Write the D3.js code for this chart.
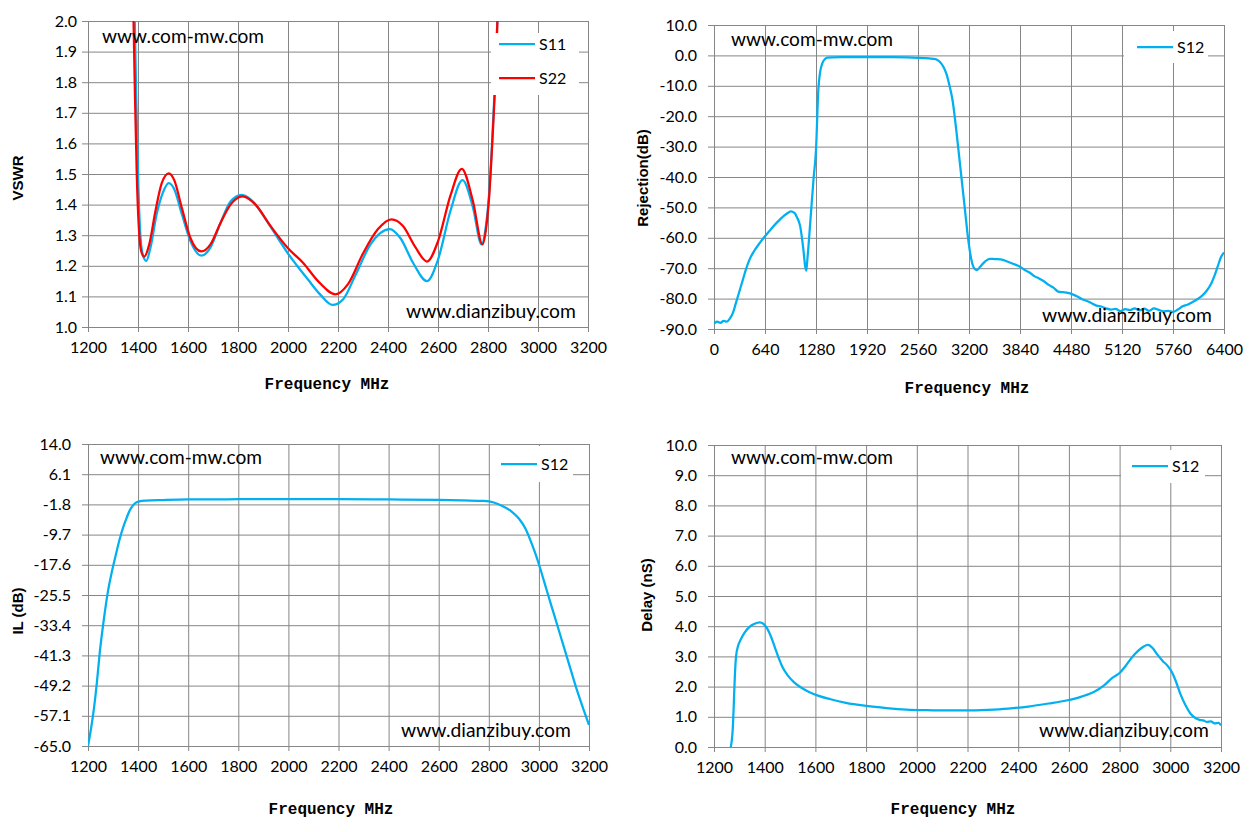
<!DOCTYPE html>
<html>
<head>
<meta charset="utf-8">
<script src="https://cdn.jsdelivr.net/npm/d3@7"></script>
<style>
body { margin: 0; background: #fff; }
</style>
</head>
<body>
<svg id="chart" width="1250" height="832"></svg>
<script>
//Chart data.

//VSWR panel
var vswrS11Freq = [1386, 1393, 1400, 1408, 1418, 1433, 1450, 1475, 1500, 1523, 1545, 1575, 1610, 1654, 1690, 1730, 1770, 1815, 1860, 1920, 2000, 2080, 2130, 2178, 2220, 2270, 2330, 2407, 2450, 2500, 2556, 2600, 2650, 2698, 2740, 2774, 2790, 2803, 2815, 2828, 2842];
var vswrS11 = [2.05, 1.75, 1.5, 1.32, 1.24, 1.216, 1.26, 1.37, 1.44, 1.47, 1.45, 1.37, 1.28, 1.233, 1.26, 1.34, 1.41, 1.432, 1.41, 1.34, 1.24, 1.155, 1.105, 1.072, 1.09, 1.17, 1.27, 1.32, 1.29, 1.21, 1.15, 1.22, 1.38, 1.48, 1.39, 1.27, 1.32, 1.42, 1.58, 1.8, 2.1];
var vswrS22Freq = [1381, 1388, 1395, 1403, 1412, 1425, 1445, 1470, 1495, 1523, 1545, 1575, 1610, 1653, 1690, 1730, 1770, 1818, 1870, 1930, 2000, 2060, 2120, 2190, 2240, 2300, 2360, 2414, 2460, 2510, 2556, 2600, 2650, 2695, 2740, 2778, 2792, 2805, 2817, 2830, 2842];
var vswrS22 = [2.05, 1.75, 1.5, 1.33, 1.25, 1.23, 1.27, 1.38, 1.47, 1.502, 1.48, 1.39, 1.29, 1.247, 1.27, 1.34, 1.40, 1.427, 1.40, 1.33, 1.257, 1.21, 1.15, 1.107, 1.14, 1.24, 1.32, 1.352, 1.33, 1.26, 1.214, 1.28, 1.43, 1.517, 1.41, 1.27, 1.32, 1.43, 1.6, 1.82, 2.1];

//Rejection panel
var rejFreq = [0, 40, 80, 120, 160, 200, 240, 280, 320, 360, 400, 440, 500, 577, 640, 720, 788, 880, 940, 962, 1010, 1040, 1080, 1120, 1145, 1158, 1172, 1185, 1205, 1248, 1280, 1309, 1330, 1359, 1393, 1420, 1600, 1920, 2240, 2560, 2700, 2780, 2830, 2880, 2920, 2960, 2995, 3040, 3090, 3140, 3190, 3230, 3270, 3300, 3340, 3400, 3460, 3520, 3600, 3680, 3760, 3840, 3900, 3960, 4020, 4080, 4140, 4200, 4260, 4320, 4380, 4440, 4500, 4560, 4620, 4680, 4740, 4800, 4860, 4920, 4980, 5040, 5100, 5160, 5220, 5280, 5340, 5400, 5460, 5520, 5580, 5640, 5700, 5760, 5820, 5880, 5940, 6000, 6060, 6120, 6180, 6240, 6280, 6320, 6360, 6400];
var rejS12 = [-88.2, -87.6, -88.0, -87.3, -87.6, -86.5, -84.5, -81.0, -77.5, -74.0, -70.5, -67.5, -64.5, -61.6, -59.5, -57.0, -55.0, -52.7, -51.6, -51.3, -51.8, -53.2, -56.0, -63.5, -69.5, -70.8, -67.0, -63.0, -56.0, -41.0, -31.0, -11.4, -5.8, -2.6, -1.2, -0.7, -0.6, -0.55, -0.6, -0.8, -1.0, -1.2, -2.0, -3.8, -6.3, -10.5, -15.0, -24.5, -36.5, -48.5, -60.5, -67.2, -70.2, -70.6, -69.5, -67.8, -66.9, -67.0, -67.1, -67.8, -68.6, -69.5, -70.6, -71.4, -72.6, -73.4, -74.3, -75.5, -76.4, -77.7, -77.9, -78.1, -78.6, -79.3, -80.2, -80.8, -81.5, -82.3, -82.6, -83.2, -83.6, -83.4, -84.1, -83.5, -83.8, -83.2, -83.9, -83.3, -84.0, -83.2, -83.7, -84.2, -84.0, -84.4, -83.6, -82.5, -82.0, -81.2, -80.3, -79.2, -77.5, -75.0, -72.5, -69.5, -66.5, -64.8];

//Insertion loss panel
var ilFreq = [1200, 1212, 1224, 1236, 1247, 1263, 1279, 1295, 1310, 1326, 1342, 1355, 1365, 1378, 1390, 1405, 1430, 1500, 1600, 1800, 2000, 2200, 2400, 2600, 2700, 2780, 2820, 2860, 2890, 2920, 2945, 2965, 2985, 3005, 3030, 3060, 3090, 3120, 3150, 3180, 3200];
var ilS12 = [-65, -60.5, -55, -48, -40.5, -32, -24.8, -19.5, -15.3, -11, -7.5, -5.2, -3.6, -2.2, -1.4, -1.0, -0.8, -0.65, -0.5, -0.45, -0.42, -0.42, -0.5, -0.6, -0.75, -0.9, -1.3, -2.4, -3.6, -5.5, -8, -11, -14.5, -18.5, -24, -30.5, -37, -43.5, -50, -55.8, -59.5];

//Group delay panel
var delayFreq = [1266, 1270, 1274, 1278, 1282, 1287, 1295, 1305, 1320, 1340, 1360, 1380, 1395, 1410, 1425, 1440, 1455, 1470, 1490, 1515, 1545, 1575, 1610, 1660, 1720, 1800, 1880, 1960, 2040, 2120, 2200, 2280, 2360, 2440, 2520, 2590, 2650, 2700, 2740, 2770, 2800, 2825, 2850, 2875, 2895, 2912, 2930, 2950, 2970, 2990, 3005, 3020, 3040, 3060, 3080, 3100, 3115, 3130, 3145, 3160, 3175, 3190, 3200];
var delayS12 = [0.0, 0.2, 0.6, 1.4, 2.3, 3.0, 3.35, 3.55, 3.78, 3.98, 4.08, 4.13, 4.08, 3.92, 3.65, 3.30, 2.95, 2.65, 2.38, 2.15, 1.96, 1.82, 1.70, 1.58, 1.46, 1.36, 1.29, 1.24, 1.22, 1.21, 1.21, 1.23, 1.27, 1.34, 1.44, 1.54, 1.67, 1.83, 2.05, 2.28, 2.45, 2.70, 2.98, 3.20, 3.33, 3.38, 3.28, 3.05, 2.85, 2.68, 2.50, 2.22, 1.75, 1.38, 1.10, 0.95, 0.90, 0.88, 0.83, 0.85, 0.78, 0.80, 0.72];

//Tick labels
var freqTicks = [1200, 1400, 1600, 1800, 2000, 2200, 2400, 2600, 2800, 3000, 3200];
var rejFreqTicks = [0, 640, 1280, 1920, 2560, 3200, 3840, 4480, 5120, 5760, 6400];
var vswrTicks = [1.0, 1.1, 1.2, 1.3, 1.4, 1.5, 1.6, 1.7, 1.8, 1.9, 2.0];
var rejTicks = [10, 0, -10, -20, -30, -40, -50, -60, -70, -80, -90];
var ilTicks = [14.0, 6.1, -1.8, -9.7, -17.6, -25.5, -33.4, -41.3, -49.2, -57.1, -65.0];
var delayTicks = [0, 1, 2, 3, 4, 5, 6, 7, 8, 9, 10];

var GRID = "#868686";
var BLUE = "#00b0f0";
var RED = "#ff0000";
var TICK_FONT = "Lato, 'Open Sans', sans-serif";

var svg = d3.select("#chart");
var clipId = 0;

//Fit a text element to a given width by changing its font size
function fitWidth(sel, width) {
    var w = sel.node().getComputedTextLength();
    var fs = parseFloat(sel.attr("font-size"));
    sel.attr("font-size", (fs * width / w).toFixed(2));
}

//Draw one of the four chart panels
function drawPanel(p) {
    var g = svg.append("g");
    var x = d3.scaleLinear().domain(p.xDomain).range([p.left, p.right]);
    var y = d3.scaleLinear().domain(p.yDomain).range([p.bottom, p.top]);
    var fmt = function (d) { return (Math.abs(d) < 1e-9 ? 0 : d).toFixed(1); };

    // grid lines
    var hg = g.append("g").attr("transform", "translate(" + p.left + ",0)")
        .call(d3.axisLeft(y).tickValues(p.yTicks).tickSize(-(p.right - p.left)).tickFormat(""));
    var vg = g.append("g").attr("transform", "translate(0," + p.bottom + ")")
        .call(d3.axisBottom(x).tickValues(p.xTicks).tickSize(-(p.bottom - p.top)).tickFormat(""));
    [hg, vg].forEach(function (a) {
        a.select(".domain").remove();
        a.selectAll("line").attr("stroke", GRID).attr("stroke-width", 1);
    });

    // plot border
    g.append("rect")
        .attr("x", p.left + 0.5).attr("y", p.top + 0.5)
        .attr("width", p.right - p.left).attr("height", p.bottom - p.top)
        .attr("fill", "none").attr("stroke", GRID);

    // axes with labels
    var ya = g.append("g").attr("transform", "translate(" + p.left + ",0)")
        .call(d3.axisLeft(y).tickValues(p.yTicks).tickSize(6).tickPadding(p.yPad).tickFormat(fmt));
    var xa = g.append("g").attr("transform", "translate(0," + p.bottom + ")")
        .call(d3.axisBottom(x).tickValues(p.xTicks).tickSize(5).tickPadding(10).tickFormat(d3.format("d")));
    [ya, xa].forEach(function (a) {
        a.attr("font-family", null).attr("font-size", null);
        a.select(".domain").attr("stroke", GRID);
        a.selectAll("line").attr("stroke", GRID);
        a.selectAll("text").attr("fill", "#000")
            .style("font-family", TICK_FONT).style("font-size", "16px");
    });

    // curves
    clipId++;
    g.append("clipPath").attr("id", "clip" + clipId)
        .append("rect").attr("x", p.left).attr("y", p.top)
        .attr("width", p.right - p.left).attr("height", p.bottom - p.top);
    var line = d3.line()
        .x(function (d) { return x(d[0]); })
        .y(function (d) { return y(d[1]); })
        .curve(d3.curveMonotoneX);
    p.series.forEach(function (s) {
        g.append("path")
            .datum(d3.zip(s.freq, s.val))
            .attr("clip-path", "url(#clip" + clipId + ")")
            .attr("fill", "none")
            .attr("stroke", s.color)
            .attr("stroke-width", 2.25)
            .attr("stroke-linejoin", "round")
            .attr("d", line);
    });

    // legend
    var lg = p.legend;
    g.append("rect").attr("x", lg.x).attr("y", lg.y).attr("width", lg.w).attr("height", lg.h).attr("fill", "#fff");
    p.series.forEach(function (s, i) {
        var ly = lg.rowY[i];
        g.append("line")
            .attr("x1", lg.lineX).attr("x2", lg.lineX + 36)
            .attr("y1", ly).attr("y2", ly)
            .attr("stroke", s.color).attr("stroke-width", 2.25);
        g.append("text")
            .attr("x", lg.lineX + 40).attr("y", ly + 6)
            .style("font-family", TICK_FONT).style("font-size", "16px")
            .text(s.name);
    });

    // watermarks
    var t1 = g.append("text").attr("x", p.wm1[0]).attr("y", p.wm1[1])
        .attr("font-family", TICK_FONT).attr("font-size", 18).text("www.com-mw.com");
    fitWidth(t1, 162);
    var t2 = g.append("text").attr("x", p.wm2[0]).attr("y", p.wm2[1])
        .attr("font-family", TICK_FONT).attr("font-size", 18).text("www.dianzibuy.com");
    fitWidth(t2, 170);

    // axis titles
    g.append("text")
        .attr("x", p.xTitle[0]).attr("y", p.xTitle[1])
        .attr("text-anchor", "middle")
        .attr("font-family", "'Liberation Mono', 'DejaVu Sans Mono', monospace")
        .attr("font-weight", "bold").attr("font-size", 16)
        .text("Frequency MHz");
    g.append("text")
        .attr("transform", "translate(" + p.yTitle[0] + "," + p.yTitle[1] + ") rotate(-90)")
        .attr("text-anchor", "middle")
        .attr("font-family", "'Liberation Sans', Arial, sans-serif")
        .attr("font-weight", "bold").attr("font-size", 15)
        .text(p.yLabel);
}

drawPanel({
    left: 88, right: 588, top: 21, bottom: 327,
    xDomain: [1200, 3200], xTicks: freqTicks,
    yDomain: [1.0, 2.0], yTicks: vswrTicks, yPad: 5,
    series: [
        {name: "S11", freq: vswrS11Freq, val: vswrS11, color: BLUE},
        {name: "S22", freq: vswrS22Freq, val: vswrS22, color: RED}
    ],
    legend: {x: 491, y: 33, w: 88, h: 62, lineX: 499, rowY: [44, 78]},
    wm1: [102, 43], wm2: [406, 318],
    xTitle: [327, 389], yTitle: [23, 178], yLabel: "VSWR"
});

drawPanel({
    left: 714, right: 1224, top: 25, bottom: 329,
    xDomain: [0, 6400], xTicks: rejFreqTicks,
    yDomain: [-90, 10], yTicks: rejTicks, yPad: 11,
    series: [
        {name: "S12", freq: rejFreq, val: rejS12, color: BLUE}
    ],
    legend: {x: 1124, y: 31, w: 84, h: 32, lineX: 1137, rowY: [47]},
    wm1: [731, 46], wm2: [1042, 322],
    xTitle: [967, 393], yTitle: [648, 178], yLabel: "Rejection(dB)"
});

drawPanel({
    left: 88, right: 589, top: 444, bottom: 746,
    xDomain: [1200, 3200], xTicks: freqTicks,
    yDomain: [-65, 14], yTicks: ilTicks, yPad: 11,
    series: [
        {name: "S12", freq: ilFreq, val: ilS12, color: BLUE}
    ],
    legend: {x: 490, y: 446, w: 83, h: 36, lineX: 501, rowY: [464]},
    wm1: [100, 464], wm2: [401, 737],
    xTitle: [331, 814], yTitle: [23, 611], yLabel: "IL (dB)"
});

drawPanel({
    left: 714, right: 1221, top: 445, bottom: 747,
    xDomain: [1200, 3200], xTicks: freqTicks,
    yDomain: [0, 10], yTicks: delayTicks, yPad: 11,
    series: [
        {name: "S12", freq: delayFreq, val: delayS12, color: BLUE}
    ],
    legend: {x: 1121, y: 450, w: 84, h: 33, lineX: 1132, rowY: [466]},
    wm1: [731, 464], wm2: [1039, 737],
    xTitle: [953, 814], yTitle: [652, 595], yLabel: "Delay (nS)"
});
</script>
</body>
</html>
